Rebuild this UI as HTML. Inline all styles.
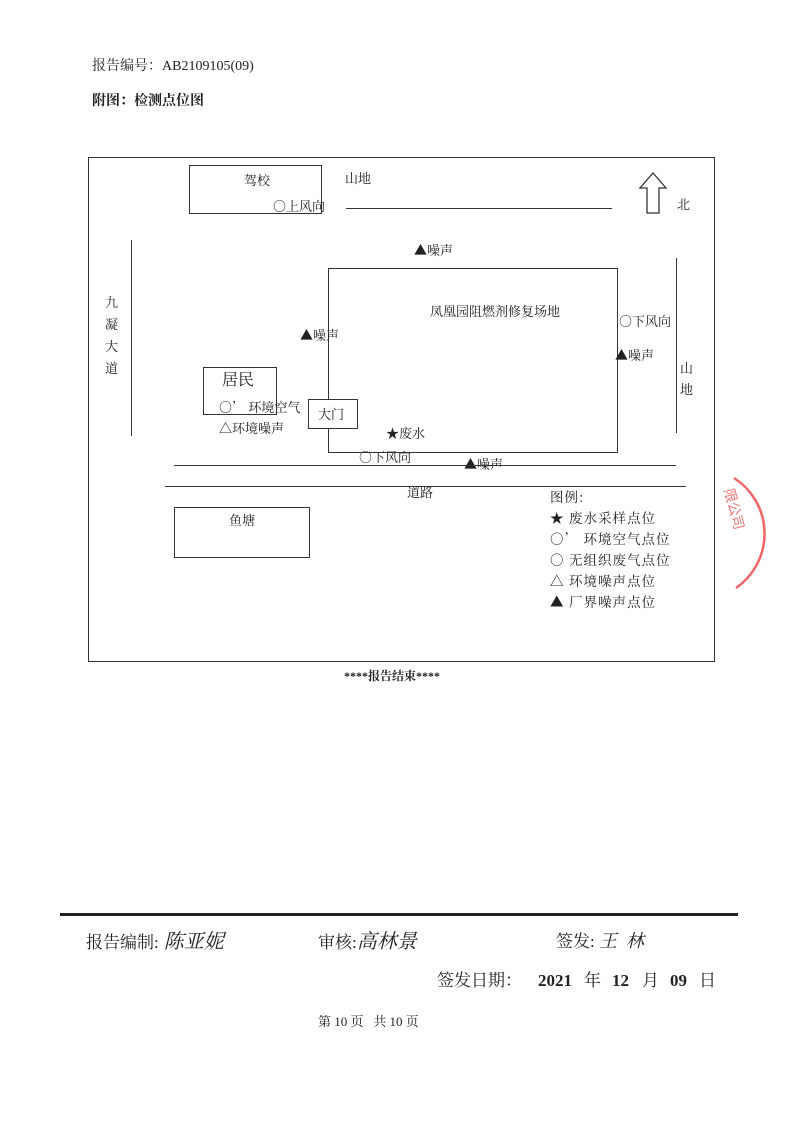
<!DOCTYPE html>
<html><head><meta charset="utf-8">
<style>
*{margin:0;padding:0;box-sizing:border-box}
body{width:793px;height:1121px;background:#fff;position:relative;overflow:hidden;font-family:"Liberation Serif","Noto Serif CJK SC",serif;color:#222}
.a{position:absolute;white-space:nowrap;line-height:1}
.b{position:absolute;border:1.3px solid #333}
.h{position:absolute;height:0;border-top:1.3px solid #333}
.v{position:absolute;width:0;border-left:1.3px solid #333}
.s{font-size:13px;font-family:"Noto Serif CJK SC",serif}
.lg{font-size:13.5px;letter-spacing:1px;font-family:"Noto Serif CJK SC",serif}
</style></head><body>
<div class="a" style="left:92px;top:60px;font-size:14px">报告编号：AB2109105(09)</div>
<div class="a" style="left:92px;top:95px;font-size:14px;font-weight:bold">附图：检测点位图</div>

<div class="b" style="left:88px;top:157px;width:627px;height:505px"></div>
<div class="b" style="left:189px;top:165px;width:133px;height:49px"></div>
<div class="a s" style="left:244px;top:173px">驾校</div>
<div class="a s" style="left:273px;top:199px">○上风向</div>
<div class="a s" style="left:345px;top:171px">山地</div>
<div class="h" style="left:346px;top:208px;width:266px"></div>
<svg style="position:absolute;left:638px;top:171px" width="30" height="44"><path d="M15 2 L28 17 L21 17 L21 42 L9 42 L9 17 L2 17 Z" fill="none" stroke="#333" stroke-width="1.3"/></svg>
<div class="a s" style="left:677px;top:197px">北</div>
<div class="a s" style="left:414px;top:243px">▲噪声</div>
<div class="b" style="left:328px;top:268px;width:290px;height:185px"></div>
<div class="a s" style="left:430px;top:304px">凤凰园阻燃剂修复场地</div>
<div class="a s" style="left:619px;top:314px">○下风向</div>
<div class="a s" style="left:615px;top:348px">▲噪声</div>
<div class="v" style="left:676px;top:258px;height:175px"></div>
<div class="a s" style="left:680px;top:361px">山</div>
<div class="a s" style="left:680px;top:382px">地</div>
<div class="v" style="left:131px;top:240px;height:196px"></div>
<div class="a s" style="left:105px;top:291px;line-height:22px;white-space:normal;width:14px">九凝大道</div>
<div class="a s" style="left:300px;top:328px">▲噪声</div>
<div class="b" style="left:203px;top:367px;width:74px;height:48px"></div>
<div class="a" style="left:222px;top:373px;font-size:16px">居民</div>
<div class="a s" style="left:219px;top:400px">○’ 环境空气</div>
<div class="a s" style="left:219px;top:421px">△环境噪声</div>
<div class="b" style="left:308px;top:399px;width:50px;height:30px;background:#fff"></div>
<div class="a s" style="left:318px;top:407px">大门</div>
<div class="a s" style="left:386px;top:426px">★废水</div>
<div class="a s" style="left:359px;top:450px">○下风向</div>
<div class="a s" style="left:464px;top:457px">▲噪声</div>
<div class="h" style="left:174px;top:465px;width:502px"></div>
<div class="h" style="left:165px;top:486px;width:521px"></div>
<div class="a s" style="left:407px;top:485px">道路</div>
<div class="b" style="left:174px;top:507px;width:136px;height:51px"></div>
<div class="a s" style="left:229px;top:513px">鱼塘</div>
<div class="a lg" style="left:550px;top:490px">图例:</div>
<div class="a lg" style="left:550px;top:511px">★ 废水采样点位</div>
<div class="a lg" style="left:550px;top:532px">○’ 环境空气点位</div>
<div class="a lg" style="left:550px;top:553px">○ 无组织废气点位</div>
<div class="a lg" style="left:550px;top:574px">△ 环境噪声点位</div>
<div class="a lg" style="left:550px;top:595px">▲ 厂界噪声点位</div>
<svg style="position:absolute;left:700px;top:470px" width="93" height="130"><path d="M34 8 A66 66 0 0 1 36 118" fill="none" stroke="#e66" stroke-width="2.5"/><text x="24" y="20" fill="#e77" font-size="14" font-family="Noto Sans CJK SC" transform="rotate(75 24 20)">限公司</text></svg>
<div class="a" style="left:344px;top:670px;font-size:12px;font-weight:bold">****报告结束****</div>

<div style="position:absolute;left:60px;top:913px;width:678px;height:2.5px;background:#222"></div>
<div class="a" style="left:86px;top:932px;font-size:17px">报告编制:<span style="font-style:italic;font-size:20px"> 陈亚妮</span></div>
<div class="a" style="left:318px;top:932px;font-size:17px">审核:<span style="font-style:italic;font-size:20px">高林景</span></div>
<div class="a" style="left:556px;top:932px;font-size:17px">签发: <span style="font-style:italic;font-size:18px">王 &nbsp;林</span></div>
<div class="a" style="left:437px;top:972px;font-size:17px">签发日期：</div>
<div class="a" style="left:538px;top:972px;font-size:17px;font-weight:bold">2021</div>
<div class="a" style="left:584px;top:972px;font-size:17px">年</div>
<div class="a" style="left:612px;top:972px;font-size:17px;font-weight:bold">12</div>
<div class="a" style="left:642px;top:972px;font-size:17px">月</div>
<div class="a" style="left:670px;top:972px;font-size:17px;font-weight:bold">09</div>
<div class="a" style="left:699px;top:972px;font-size:17px">日</div>
<div class="a" style="left:318px;top:1015px;font-size:13px">第 10 页 &nbsp; 共 10 页</div>
</body></html>
